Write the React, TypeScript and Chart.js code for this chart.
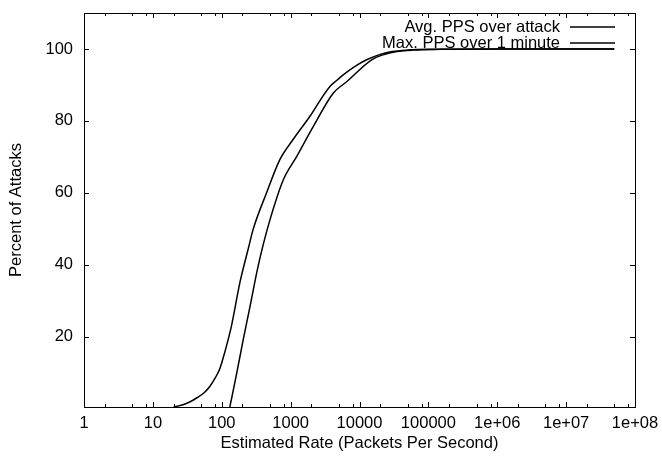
import React, { useEffect, useRef } from "react";
import { Chart, registerables } from "chart.js";

Chart.register(...registerables);

// Series: Avg. PPS over attack (CDF)
const avgRate = [20, 25, 30, 36, 43, 55, 67, 80, 94, 105, 118, 139, 184, 242, 287, 449, 700, 1092, 1906, 2700, 3719, 4700, 5797, 8500, 12670, 20000, 30000, 50000, 100000, 1000000, 50000000];
const avgPct = [0.55, 0.9, 1.4, 2.1, 3.0, 4.4, 6.2, 8.5, 11.2, 14.2, 17.7, 23.2, 35.2, 44.4, 50.0, 60.1, 69.3, 74.9, 81.3, 85.8, 89.6, 91.3, 92.8, 95.1, 97.0, 98.5, 99.3, 99.7, 99.9, 100, 100];

// Series: Max. PPS over 1 minute (CDF)
const maxRate = [131, 165, 205, 257, 321, 370, 501, 781, 1222, 2128, 4150, 6500, 15000, 22000, 35000, 60000, 150000, 1000000, 50000000];
const maxPct = [0.5, 9.9, 19.2, 28.4, 37.7, 43.0, 52.5, 63.6, 70.1, 78.4, 87.7, 90.9, 97.0, 98.4, 99.3, 99.7, 99.9, 100, 100];

const seriesLabels = ["Avg. PPS over attack", "Max. PPS over 1 minute"];

const xTickValues = [1, 10, 100, 1000, 10000, 100000, 1000000, 10000000, 100000000];
const xTickLabels = ["1", "10", "100", "1000", "10000", "100000", "1e+06", "1e+07", "1e+08"];
const xMinorMultipliers = [2, 5, 8];
const yTickValues = [20, 40, 60, 80, 100];

const FONT = '"Liberation Sans", Arial, Helvetica, sans-serif';
const FONT_SIZE = 16.5;

const gnuplotFrame = {
  id: "gnuplotFrame",
  afterDatasetsDraw(chart: any) {
    const { ctx, chartArea, scales } = chart;
    const { left, right, top, bottom } = chartArea;
    const xs = scales.x;
    const ys = scales.y;
    ctx.save();
    ctx.strokeStyle = "#000";
    ctx.lineWidth = 1;
    ctx.beginPath();
    const major = 5;
    const minor = 3;
    for (const v of xTickValues) {
      const px = Math.round(xs.getPixelForValue(v)) + 0.5;
      ctx.moveTo(px, bottom);
      ctx.lineTo(px, bottom - major);
      ctx.moveTo(px, top);
      ctx.lineTo(px, top + major);
      if (v < xTickValues[xTickValues.length - 1]) {
        for (const m of xMinorMultipliers) {
          const mp = Math.round(xs.getPixelForValue(v * m)) + 0.5;
          ctx.moveTo(mp, bottom);
          ctx.lineTo(mp, bottom - minor);
          ctx.moveTo(mp, top);
          ctx.lineTo(mp, top + minor);
        }
      }
    }
    for (const v of yTickValues) {
      const py = Math.round(ys.getPixelForValue(v)) + 0.5;
      ctx.moveTo(left, py);
      ctx.lineTo(left + major, py);
      ctx.moveTo(right, py);
      ctx.lineTo(right - major, py);
    }
    ctx.stroke();
    ctx.strokeRect(Math.round(left) + 0.5, Math.round(top) + 0.5, Math.round(right - left), Math.round(bottom - top));

    ctx.font = `${FONT_SIZE}px ${FONT}`;
    ctx.fillStyle = "#000";
    ctx.textAlign = "right";
    ctx.textBaseline = "middle";
    chart.data.datasets.forEach((ds: any, i: number) => {
      const y = top + 14 + i * 16;
      ctx.fillText(ds.label, 560, y);
      ctx.beginPath();
      ctx.lineWidth = ds.borderWidth;
      ctx.strokeStyle = ds.borderColor;
      ctx.moveTo(570, y);
      ctx.lineTo(615, y);
      ctx.stroke();
    });
    ctx.restore();
  },
};

export default function App() {
  const ref = useRef<HTMLCanvasElement | null>(null);

  useEffect(() => {
    if (!ref.current) return;
    const chart = new Chart(ref.current, {
      type: "line",
      data: {
        datasets: [
          {
            label: seriesLabels[0],
            data: avgRate.map((r, i) => ({ x: r, y: avgPct[i] })),
            borderColor: "#000",
            borderWidth: 1.5,
            pointRadius: 0,
            cubicInterpolationMode: "monotone",
            fill: false,
          },
          {
            label: seriesLabels[1],
            data: maxRate.map((r, i) => ({ x: r, y: maxPct[i] })),
            borderColor: "#000",
            borderWidth: 1.5,
            pointRadius: 0,
            cubicInterpolationMode: "monotone",
            fill: false,
          },
        ],
      },
      options: {
        responsive: false,
        animation: false,
        layout: { padding: { top: 13, right: 27, left: 0, bottom: 0 } },
        plugins: {
          legend: { display: false },
          tooltip: { enabled: false },
        },
        scales: {
          x: {
            type: "logarithmic",
            min: 1,
            max: 100000000,
            border: { display: false },
            grid: { display: false, drawTicks: false },
            afterBuildTicks: (scale: any) => {
              scale.ticks = xTickValues.map((v) => ({ value: v }));
            },
            afterFit: (scale: any) => {
              scale.height = 51;
              scale.paddingLeft = 0;
              scale.paddingRight = 0;
            },
            ticks: {
              autoSkip: false,
              maxRotation: 0,
              minRotation: 0,
              padding: 7,
              color: "#000",
              font: { family: FONT, size: FONT_SIZE },
              callback: (_v: any, index: number) => xTickLabels[index],
            },
            title: {
              display: true,
              text: "Estimated Rate (Packets Per Second)",
              color: "#000",
              font: { family: FONT, size: FONT_SIZE },
              padding: { top: 0, bottom: 5 },
            },
          },
          y: {
            type: "linear",
            min: 0.5,
            max: 110,
            border: { display: false },
            grid: { display: false, drawTicks: false },
            afterBuildTicks: (scale: any) => {
              scale.ticks = yTickValues.map((v) => ({ value: v }));
            },
            afterFit: (scale: any) => {
              scale.width = 84;
              scale.paddingTop = 0;
              scale.paddingBottom = 0;
            },
            ticks: {
              padding: 11,
              color: "#000",
              font: { family: FONT, size: FONT_SIZE },
              callback: (v: any) => String(v),
            },
            title: {
              display: true,
              text: "Percent of Attacks",
              color: "#000",
              font: { family: FONT, size: FONT_SIZE },
              padding: { top: 7, bottom: 0 },
            },
          },
        },
      },
      plugins: [gnuplotFrame],
    });
    return () => chart.destroy();
  }, []);

  return (
    <div style={{ position: "fixed", left: 0, top: 0, width: 662, height: 458, background: "#fff" }}>
      <canvas ref={ref} width={662} height={458} style={{ display: "block" }} />
    </div>
  );
}
